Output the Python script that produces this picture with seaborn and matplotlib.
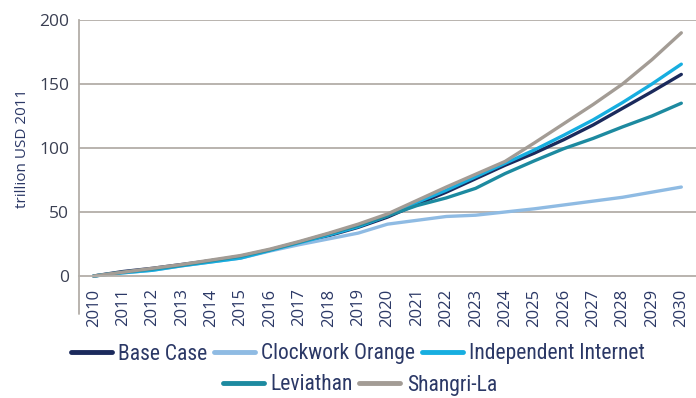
import matplotlib
matplotlib.use("Agg")
import matplotlib.pyplot as plt
from matplotlib import font_manager
from matplotlib.lines import Line2D
import seaborn as sns
import pandas as pd

years = list(range(2010, 2031))
base_case = [0, 3.5, 6, 9, 12, 15, 20, 25.5, 31.5, 38, 46, 56, 65.5, 76, 86.5,
             96, 106.5, 118, 131, 144, 157.5]
clockwork_orange = [0, 2.5, 4.5, 8, 11, 14, 19.5, 24.5, 29, 33.5, 40.5, 43.5, 46.5,
                    47.5, 50, 52.5, 55.5, 58.5, 61.5, 65.5, 69.5]
independent_internet = [0, 2.5, 4.5, 8, 11, 14, 20, 26, 32, 38.5, 47, 57.5, 67, 77.5,
                        88, 98.5, 110, 122, 135.5, 150, 165.5]
leviathan = [0, 3, 5.5, 8.5, 12, 15.5, 20.5, 26.5, 33, 39.5, 47, 55, 61, 68.5, 80,
             90, 99.5, 107.5, 116.5, 125, 135]
shangri_la = [0, 3, 6, 9, 12.5, 16, 21, 27, 33.5, 40.5, 48.5, 59, 69.5, 79.5, 89.5,
              104, 119, 134, 150, 169, 190]

scenarios = ["Base Case", "Clockwork Orange", "Independent Internet",
             "Leviathan", "Shangri-La"]
series = [base_case, clockwork_orange, independent_internet, leviathan, shangri_la]
colors = ["#1b2a5c", "#8fbbe3", "#17aee0", "#1d8aa0", "#a39c95"]
y_ticks = [0, 50, 100, 150, 200]

rows = []
for name, vals in zip(scenarios, series):
    for i, (yr, v) in enumerate(zip(years, vals)):
        rows.append({"pos": i, "year": yr, "scenario": name, "value": v})
df = pd.DataFrame(rows)

sns.set_theme(style="white")
plt.rcParams["font.family"] = ["Open Sans", "DejaVu Sans"]

# a narrower face for the legend, when one is installed
installed = {f.name for f in font_manager.fontManager.ttflist}
narrow = None
for cand in ["Liberation Sans Narrow", "Roboto Condensed", "Open Sans Condensed"]:
    if cand in installed:
        narrow = cand
        break
narrow_family = [narrow, "Open Sans", "DejaVu Sans"] if narrow else ["Open Sans", "DejaVu Sans"]
legend_size = 15.5 if narrow else 13.5

text_col = "#2b3866"
grid_col = "#b3aea8"

fig = plt.figure(figsize=(6.96, 3.98), dpi=100)
ax = fig.add_axes([79 / 696, 1 - 276 / 398, 1 - 79 / 696, 256 / 398])

palette = dict(zip(scenarios, colors))
sns.lineplot(data=df, x="pos", y="value", hue="scenario", hue_order=scenarios,
             palette=palette, linewidth=2.4, legend=False, ax=ax, clip_on=False)

ax.set_xlim(-0.5, 20 + 7 / 29.75)
ax.set_ylim(0, 200)
ax.set_yticks(y_ticks)
ax.set_yticklabels([str(t) for t in y_ticks], fontsize=12.5, color="#3a3f52")
ax.set_xticks(range(len(years)))
ax.set_xticklabels([str(y) for y in years], rotation=90, fontsize=12,
                   color=text_col)
ax.set_xticks([i + 0.5 for i in range(len(years))], minor=True)
ax.tick_params(axis="x", which="major", length=0, pad=9)
ax.tick_params(axis="x", which="minor", length=5, width=1.2, color=grid_col,
               direction="out")
ax.tick_params(axis="y", length=4, width=1.2, color=grid_col, pad=3)

for t in y_ticks[1:]:
    ax.axhline(t, color=grid_col, linewidth=1.3, zorder=0)

for side in ["top", "right"]:
    ax.spines[side].set_visible(False)
ax.spines["bottom"].set_color(grid_col)
ax.spines["bottom"].set_linewidth(1.3)
ax.spines["left"].set_color(grid_col)
ax.spines["left"].set_linewidth(1.3)
ax.spines["left"].set_zorder(0)
# left axis line continues down through the year labels
ax.plot([-0.5, -0.5], [0, -30], color=grid_col, linewidth=1.3, clip_on=False,
        zorder=0)

ax.set_xlabel("")
ax.set_ylabel("trillion USD 2011", fontsize=11, color=text_col)
ax.yaxis.set_label_coords(-0.08, 0.5)

handles = [Line2D([0], [0], color=c, linewidth=3.5) for c in colors]
leg_kw = dict(frameon=False, handlelength=1.9, handletextpad=0.3,
              columnspacing=0.3, borderpad=0, labelcolor=text_col,
              prop={"family": narrow_family, "size": legend_size})
leg1 = fig.legend(handles[:3], scenarios[:3], ncol=3, loc="center",
                  bbox_to_anchor=(358 / 696, 1 - 354 / 398), **leg_kw)
leg2 = fig.legend(handles[3:], scenarios[3:], ncol=2, loc="center",
                  bbox_to_anchor=(360 / 696, 1 - 385 / 398), **leg_kw)

fig.savefig("out.png", dpi=100)
